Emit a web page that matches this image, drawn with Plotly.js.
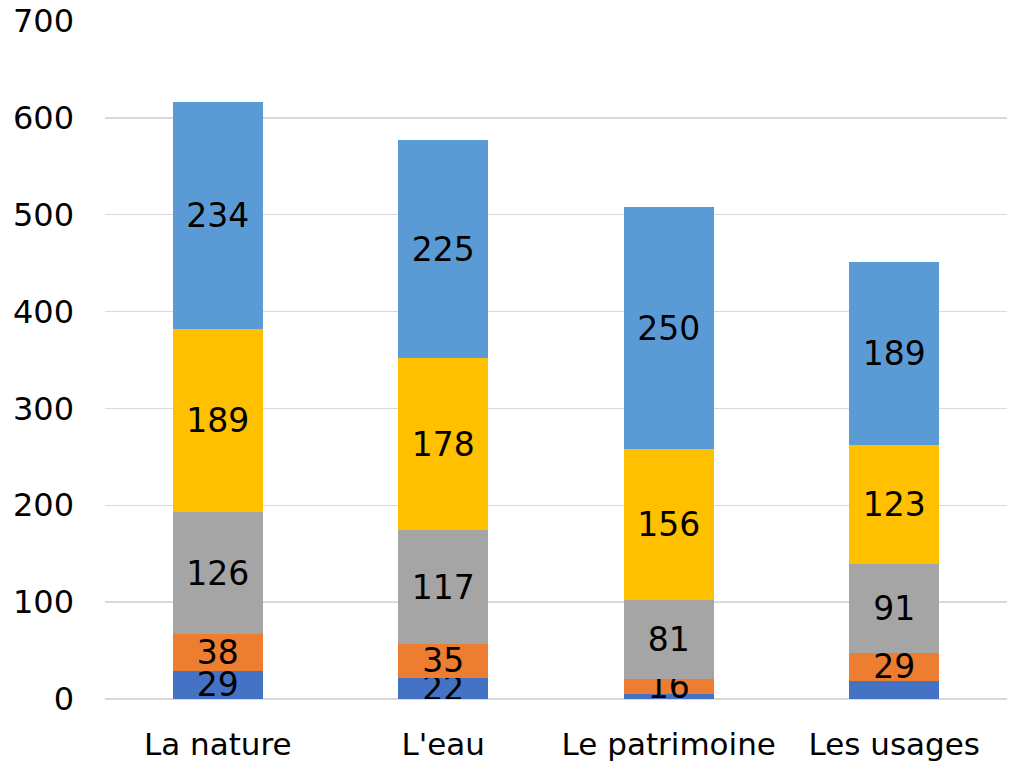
<!DOCTYPE html>
<html>
<head>
<meta charset="utf-8">
<script src="https://cdn.plot.ly/plotly-3.0.1.min.js"></script>
<style>
  html, body { margin: 0; padding: 0; background: #fff; }
  #plot { width: 1011px; height: 764px; }
</style>
</head>
<body>
<div id="plot"></div>
<script>
// categories and stacked series (bottom to top)
const categories = ["La nature", "L'eau", "Le patrimoine", "Les usages"];
const serie1 = [29, 22, 5, 19];
const serie2 = [38, 35, 16, 29];
const serie3 = [126, 117, 81, 91];
const serie4 = [189, 178, 156, 123];
const serie5 = [234, 225, 250, 189];
// labels shown in the picture (the two smallest blue ones are not shown)
const labels1 = ["29", "22", "", ""];

const colors = ['#4472C4', '#ED7D31', '#A5A5A5', '#FFC000', '#5B9BD5'];
const series = [serie1, serie2, serie3, serie4, serie5];
const fnt = 'DejaVu Sans, sans-serif';

const data = series.map(function(s, i){
    return {
        x: categories,
        y: s,
        type: 'bar',
        name: 'Série ' + (i + 1),
        marker: { color: colors[i] },
        text: i == 0 ? labels1 : s.map(String),
        textposition: 'inside',
        insidetextanchor: 'middle',
        textangle: 0,
        constraintext: 'none',
        textfont: { family: fnt, size: 33, color: '#000' },
        hoverinfo: 'none'
    };
});

const layout = {
    barmode: 'stack',
    bargap: 0.6,
    showlegend: false,
    width: 1011,
    height: 764,
    margin: { l: 105, r: 4, t: 21, b: 65, pad: 0 },
    paper_bgcolor: '#fff',
    plot_bgcolor: '#fff',
    uniformtext: { mode: 'show', minsize: 33 },
    font: { family: fnt, color: '#000' },
    xaxis: {
        tickfont: { size: 31, color: '#000' },
        showgrid: false,
        showline: false,
        zeroline: false,
        ticks: '',
        ticklabelstandoff: 24
    },
    yaxis: {
        range: [0, 700],
        dtick: 100,
        tickfont: { size: 32, color: '#000' },
        showgrid: true,
        gridcolor: '#d9d9d9',
        gridwidth: 1.5,
        zeroline: true,
        zerolinecolor: '#d9d9d9',
        zerolinewidth: 1.5,
        showline: false,
        ticks: '',
        ticklabelstandoff: 30
    }
};

Plotly.newPlot('plot', data, layout, { staticPlot: true });
</script>
</body>
</html>
